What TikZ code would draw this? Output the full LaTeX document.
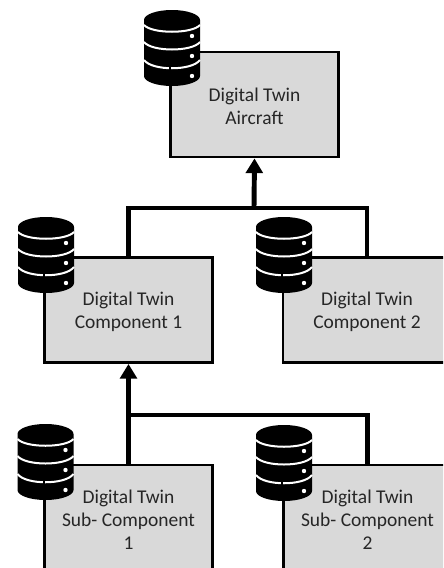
\documentclass[tikz,border=0pt]{standalone}
\usepackage{fontspec}
\setmainfont{Carlito}
\usetikzlibrary{arrows.meta}
\newcommand{\firstrow}[1]{\raisebox{0pt}[\dimexpr\height+3pt\relax]{#1}}
\tikzset{
  x=0.75pt,y=-0.75pt,
  twin/.style={draw=black,line width=1.9pt,fill=boxgray,text=textgray,align=center,inner sep=0pt,
    minimum width=126pt,minimum height=79pt,font=\fontsize{14.6}{17.4}\selectfont},
  link/.style={draw=black,line width=3.7pt,line cap=butt,line join=miter},
  uplink/.style={link,-{Triangle[length=11pt,width=12.5pt]}},
  dbicon/.pic={
    \fill[black] (-28,-28) arc[start angle=180,end angle=360,x radius=28,y radius=10]
       -- (28,28) arc[start angle=0,end angle=180,x radius=28,y radius=10] -- cycle;
    \draw[white,line width=1.5pt] (-28,-23) .. controls (-20,-14) and (20,-14) .. (28,-23);
    \draw[white,line width=1.5pt] (-28,-6) .. controls (-20,4) and (20,4) .. (28,-6);
    \draw[white,line width=1.5pt] (-28,12) .. controls (-20,23) and (20,23) .. (28,12);
    \fill[white] (20,-12) circle[radius=2.2] (20,8) circle[radius=2.2] (20,28) circle[radius=2.2];
    \draw[black,line width=1.5pt] (-2,14) -- (-2,24);
  }
}
\definecolor{boxgray}{HTML}{D9D9D9}
\definecolor{textgray}{HTML}{262626}
\begin{document}
\begin{tikzpicture}
\useasboundingbox (0,0) rectangle (443,568);
\clip (0,0) rectangle (443,568);
\coordinate (j1) at (254,208);
\coordinate (j2) at (129,415);
\node[twin] (air) at (254.5,104.5) {\firstrow{Digital Twin}\\Aircraft};
\node[twin] (c1) at (128.5,310) {\firstrow{Digital Twin}\\Component 1};
\node[twin] (c2) at (367,310) {\firstrow{Digital Twin}\\Component 2};
\node[twin] (s1) at (128.5,517.5) {\firstrow{Digital Twin}\\Sub- Component\\1};
\node[twin] (s2) at (367.5,517.5) {\firstrow{Digital Twin}\\Sub- Component\\2};
\draw[link] (c1.north) |- (j1) -| (c2.north);
\draw[uplink] (j1) -- (air.south);
\draw[link] (s1.north) |- (j2) -| (s2.north);
\draw[uplink] (s1.north) -- (c1.south);
\pic at (172,48) {dbicon};
\pic at (46,255) {dbicon};
\pic at (284,255) {dbicon};
\pic at (45.5,462) {dbicon};
\pic at (284,463) {dbicon};
\end{tikzpicture}
\end{document}
